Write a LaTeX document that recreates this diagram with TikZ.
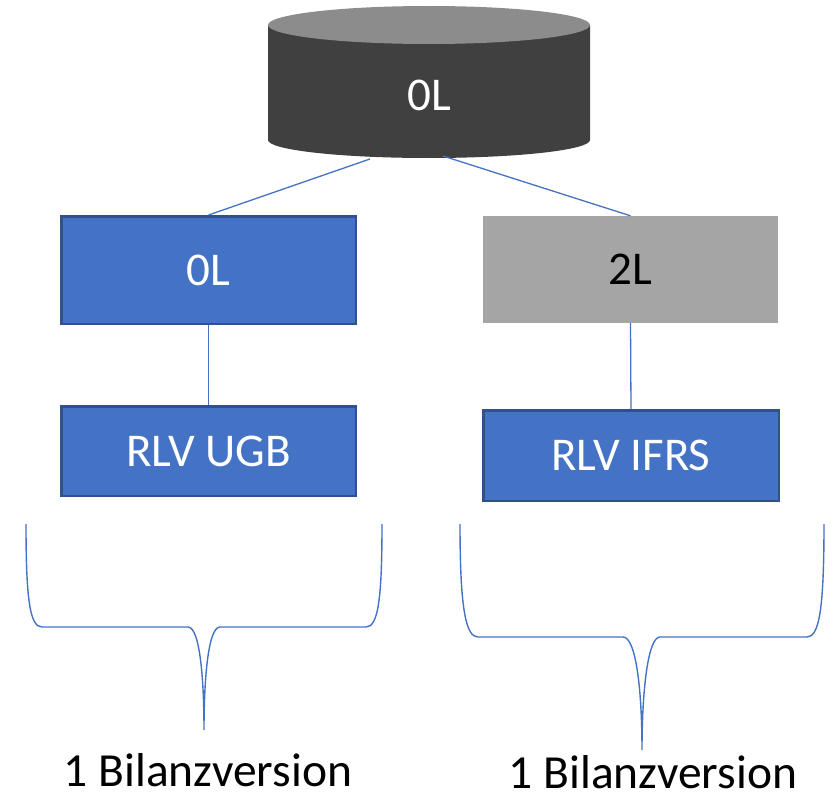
\documentclass[tikz,border=0pt]{standalone}
\usepackage{fontspec}
\setmainfont{Carlito}
\definecolor{acc}{HTML}{4472C4}
\definecolor{accdark}{HTML}{2F528F}
\definecolor{dbbody}{HTML}{404040}
\definecolor{dbtop}{HTML}{8C8C8C}
\definecolor{graybox}{HTML}{A5A5A5}
\tikzset{
  bluebox/.style={draw=accdark, line width=2.5pt, fill=acc, text=white, inner sep=0pt,
    font=\fontsize{47}{50}\selectfont},
  graybx/.style={fill=graybox, text=black, inner sep=0pt, font=\fontsize{47}{50}\selectfont},
  conn/.style={draw=acc, line width=1.3pt},
  brace/.style={draw=acc, line width=1.4pt},
  label/.style={font=\fontsize{47.5}{50}\selectfont, anchor=base, inner sep=0pt}
}
\begin{document}
\begin{tikzpicture}[x=1pt,y=-1pt]
\useasboundingbox (0,0) rectangle (833,800);
% database cylinder
\fill[dbbody] (268,25) -- (268,140) arc[start angle=180, end angle=360, x radius=161pt, y radius=18pt] -- (590,25) -- cycle;
\fill[dbtop] (429,25) ellipse [x radius=161pt, y radius=19pt];
\node[text=white, font=\fontsize{47}{50}\selectfont, inner sep=0pt] (db) at (429,95) {0L};
\coordinate (dbL) at (370,159);
\coordinate (dbR) at (443,156);
% boxes
\node[bluebox, minimum width=294.5pt, minimum height=107.5pt] (b0l) at (208.5,270) {0L};
\node[graybx, minimum width=295pt, minimum height=107pt] (b2l) at (630.5,269.5) {2L};
\node[bluebox, minimum width=294.5pt, minimum height=89.5pt] (ugb) at (208.5,451) {RLV UGB};
\node[bluebox, minimum width=295.5pt, minimum height=90.5pt] (ifrs) at (631,455.5) {RLV IFRS};
% connectors
\draw[conn] (dbL) -- (b0l.north);
\draw[conn] (dbR) -- (b2l.north);
\draw[conn] (b0l.south) -- (ugb.north);
\draw[conn] (b2l.south) -- (ifrs.north);
% braces
\draw[brace] (26,524) .. controls (26,600) and (30,627) .. (42,627) -- (188,627)
  .. controls (200,627) and (204,680) .. (204,730)
  .. controls (204,680) and (208,627) .. (220,627) -- (366,627)
  .. controls (378,627) and (382,600) .. (382,524);
\draw[brace] (460,524) .. controls (460,610) and (466,637) .. (478,637) -- (623,637)
  .. controls (636,637) and (642,690) .. (642,750)
  .. controls (642,690) and (648,637) .. (660,637) -- (807,637)
  .. controls (819,637) and (824,610) .. (824,524);
% labels
\node[label] (lblL) at (208,786) {1 Bilanzversion};
\node[label] (lblR) at (653,788) {1 Bilanzversion};
\end{tikzpicture}
\end{document}
